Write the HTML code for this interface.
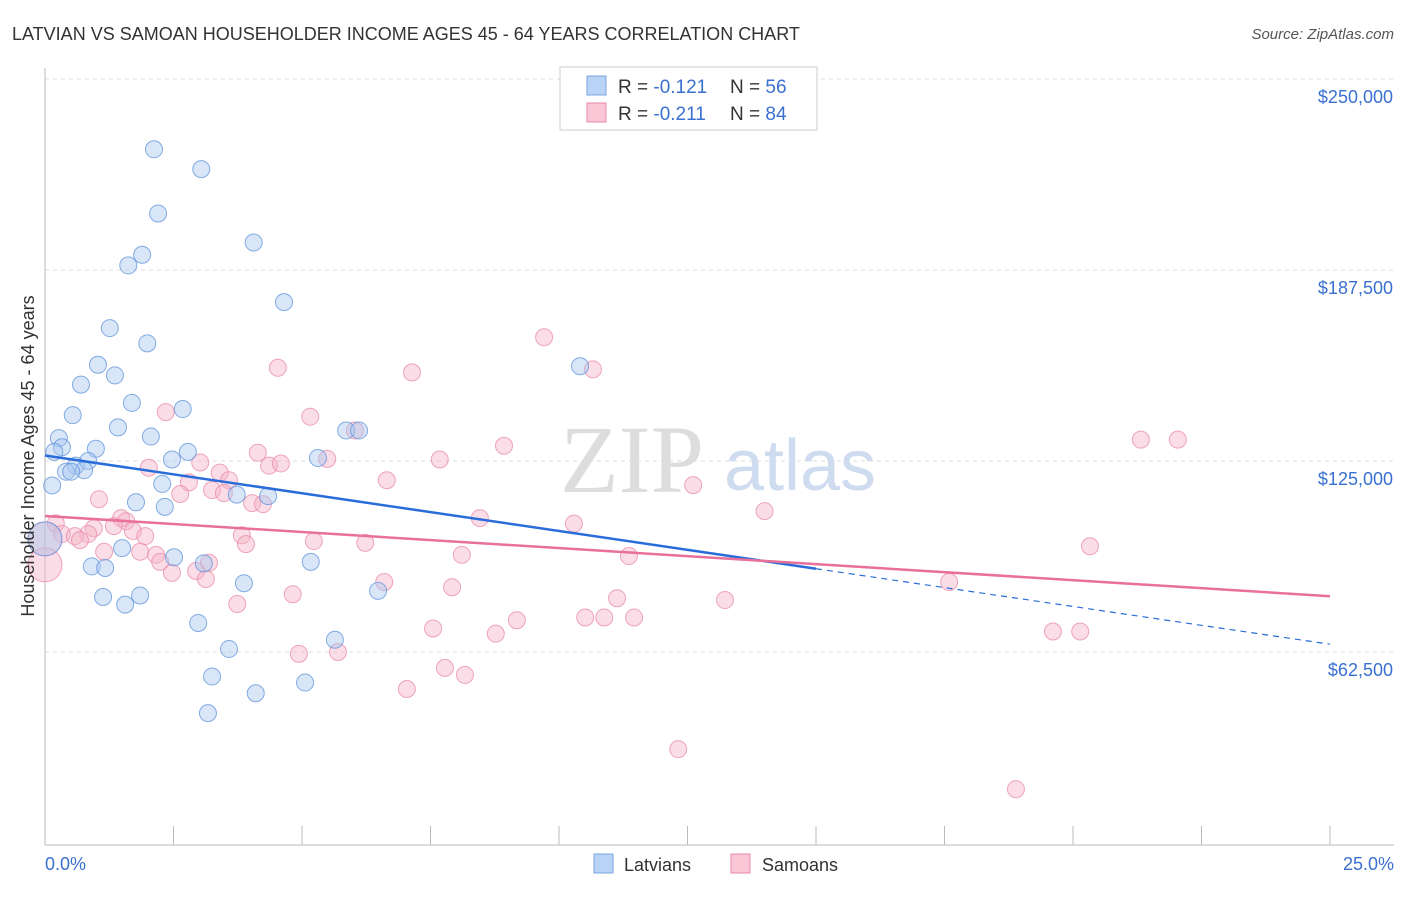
<!DOCTYPE html>
<html><head><meta charset="utf-8"><style>
body{margin:0;background:#fff;font-family:"Liberation Sans",sans-serif}
</style></head><body>
<svg id="c" width="1406" height="892" xmlns="http://www.w3.org/2000/svg" style="font-family:'Liberation Sans',sans-serif">
<text x="12" y="40" font-size="18" fill="#333">LATVIAN VS SAMOAN HOUSEHOLDER INCOME AGES 45 - 64 YEARS CORRELATION CHART</text>
<text x="1394" y="39" font-size="15" fill="#555" font-style="italic" text-anchor="end">Source: ZipAtlas.com</text>
<g id="grid"></g>
<text x="632" y="492" font-size="96" fill="#ddd" font-family="Liberation Serif" text-anchor="middle">ZIP</text>
<text x="800" y="490" font-size="72" fill="#cfdcf0" text-anchor="middle">atlas</text>
<g id="pts"></g>
<g id="lines"></g>
<text transform="translate(34,456) rotate(-90)" font-size="18" fill="#333" text-anchor="middle">Householder Income Ages 45 - 64 years</text>
<text x="45" y="870" font-size="18" fill="#3a70d0">0.0%</text>
<text x="1394" y="870" font-size="18" fill="#3a70d0" text-anchor="end">25.0%</text>
<g>
<rect x="560" y="67" width="257" height="63" fill="#fff" stroke="#ccc"/>
<rect x="587" y="76" width="19" height="19" fill="#b8d3f5" stroke="#7aa6e0"/>
<rect x="587" y="103" width="19" height="19" fill="#f9c6d6" stroke="#e98aa8"/>
<text x="618" y="93" font-size="19" fill="#333">R = <tspan fill="#3a70d0">-0.121</tspan></text>
<text x="730" y="93" font-size="19" fill="#333">N = <tspan fill="#3a70d0">56</tspan></text>
<text x="618" y="120" font-size="19" fill="#333">R = <tspan fill="#3a70d0">-0.211</tspan></text>
<text x="730" y="120" font-size="19" fill="#333">N = <tspan fill="#3a70d0">84</tspan></text>
</g>
<g>
<rect x="594" y="854" width="19" height="19" fill="#b8d3f5" stroke="#7aa6e0"/>
<text x="624" y="871" font-size="18" fill="#333">Latvians</text>
<rect x="731" y="854" width="19" height="19" fill="#f9c6d6" stroke="#e98aa8"/>
<text x="762" y="871" font-size="18" fill="#333">Samoans</text>
</g>
</svg>
<script>
const yTicks=[62500,125000,187500,250000];
const yTickLabels=["$62,500","$125,000","$187,500","$250,000"];
// Latvian (x %, income)
const latvX=[2.12,3.04,2.2,4.06,1.89,1.62,4.65,1.26,1.99,1.03,1.36,0.7,1.69,2.68,0.54,1.42,2.06,0.27,0.33,0.99,0.18,2.78,5.86,6.11,5.31,2.47,0.6,0.84,0.41,0.76,0.51,0.14,2.28,3.73,4.34,1.77,2.33,0.0,1.5,2.51,3.09,5.17,0.91,1.17,3.87,6.48,1.13,1.85,1.56,2.98,5.64,3.58,3.25,5.06,4.1,3.17,10.41];
const latvY=[227000,220500,206000,196500,192500,189000,177000,168500,163500,156500,153000,150000,144000,142000,140000,136000,133000,132500,129500,129000,128000,128000,135000,135000,126000,125500,123500,125000,121500,122000,121500,117000,117500,114000,113500,111500,110000,99500,96500,93500,91500,92000,90500,90000,85000,82500,80500,81000,78000,72000,66500,63500,54500,52500,49000,42500,156000];
// Samoan
const samX=[9.71,4.53,7.14,10.66,2.35,5.16,6.03,8.93,21.32,22.04,7.68,4.14,3.02,5.49,2.02,3.4,4.36,4.59,6.65,3.58,12.61,2.8,2.63,3.25,3.48,1.05,4.03,4.24,14.0,8.46,10.29,1.48,0.21,1.58,1.34,0.95,0.84,0.33,0.58,0.68,0.0,1.71,1.95,3.83,3.91,5.23,6.23,20.33,1.15,1.85,2.16,2.24,3.19,8.11,11.36,0.0,2.47,2.94,3.13,6.6,17.59,7.92,4.82,11.13,13.23,3.74,9.18,10.51,10.88,11.46,7.55,8.77,19.61,20.14,4.94,5.7,7.78,8.17,7.04,12.32,18.89];
const samY=[165500,155500,154000,155000,141000,139500,135000,130000,132000,132000,125500,127700,124500,125700,122800,121200,123500,124200,118700,118700,117100,118000,114200,115500,114500,112500,111200,110900,108600,106300,104500,106300,104600,105300,103700,103000,101100,101100,100400,99100,99500,102100,100400,100700,97800,98800,98200,97100,95300,95300,94300,92000,91700,94300,93900,91000,88400,89000,86400,85400,85400,83700,81400,80100,79500,78200,72900,73800,73800,73800,70200,68500,69200,69200,61900,62500,57300,55000,50400,30700,17600];
const NS="http://www.w3.org/2000/svg";
const X0=45,X1=1330,Y0=843,YPER=191/62500;
const xs=v=>X0+(v/25)*(X1-X0);
const ys=v=>Y0-v*YPER;
function mk(tag,at,parent){const e=document.createElementNS(NS,tag);for(const k in at)e.setAttribute(k,at[k]);parent.appendChild(e);return e;}
const grid=document.getElementById('grid');
yTicks.forEach((t,i)=>{
 const l=mk('line',{x1:X0,x2:1394,y1:ys(t),y2:ys(t),stroke:'#ddd','stroke-dasharray':'4,4'},grid);
 
 
 const tx=mk('text',{x:1393,y:ys(t)+24,'font-size':18,fill:'#3a70d0','text-anchor':'end'},grid);
 tx.textContent=yTickLabels[i];
 
 
});
const ax=mk('line',{x1:X0,x2:1394,y1:845,y2:845,stroke:'#bbb'},grid);


const ay=mk('line',{x1:X0,x2:X0,y1:68,y2:845,stroke:'#bbb'},grid);


for(let i=0;i<=10;i++){
 const t=mk('line',{x1:xs(i*2.5),x2:xs(i*2.5),y1:826,y2:845,stroke:'#bbb'},grid);
 
 
}
const pts=document.getElementById('pts');
function dots(X,Y,fill,stroke,name){
 X.forEach((x,i)=>{
  const big=x===0;
  const c=mk('circle',{cx:xs(x),cy:ys(Y[i]),r:big?17:8.5,fill:fill,'fill-opacity':0.45,stroke:stroke,'stroke-width':1,'stroke-opacity':0.75},pts);
  
  
 });
}
dots(samX,samY,'#f5b3c8','#e98aa8','samoan-point');
dots(latvX,latvY,'#a9c8f0','#5e92db','latvian-point');
const lines=document.getElementById('lines');
const blueA=126800,blueB=-2470,pinkA=107000,pinkB=-1050;
let b1=mk('line',{x1:xs(0),y1:ys(blueA),x2:xs(15),y2:ys(blueA+blueB*15),stroke:'#2a6dd9','stroke-width':2.5},lines);


let b2=mk('line',{x1:xs(15),y1:ys(blueA+blueB*15),x2:xs(25),y2:ys(blueA+blueB*25),stroke:'#2a6dd9','stroke-width':1.2,'stroke-dasharray':'6,5'},lines);


let p1=mk('line',{x1:xs(0),y1:ys(pinkA),x2:xs(25),y2:ys(pinkA+pinkB*25),stroke:'#e8709a','stroke-width':2.5},lines);


</script>
</body></html>
